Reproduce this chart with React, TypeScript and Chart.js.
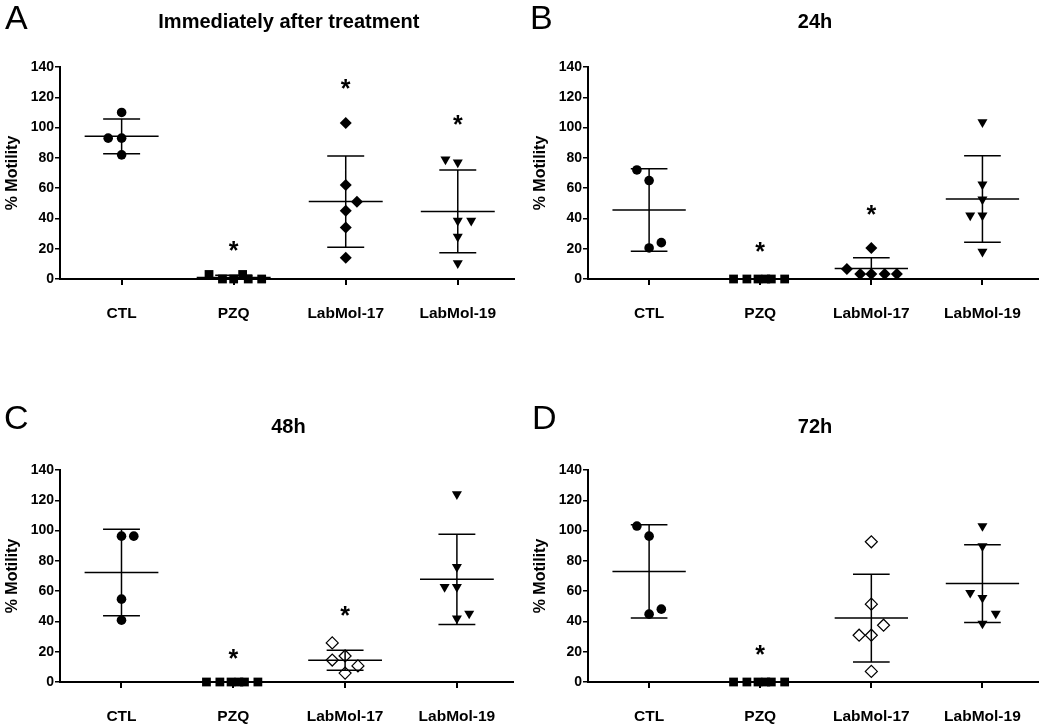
import React, { useEffect, useRef } from 'react';
import { Chart, registerables } from 'chart.js';

Chart.register(...registerables);

// ---------- data ----------
const categories = ['CTL', 'PZQ', 'LabMol-17', 'LabMol-19'];
const yMin = 0;
const yMax = 140;
const yStep = 20;
const yTitle = '% Motility';

// Panel A: Immediately after treatment
const aTitle = 'Immediately after treatment';
const aCTL = [110, 93, 93, 82];
const aPZQ = [3, 0, 0, 3, 0, 0];
const aLM17 = [103, 62, 51, 45, 34, 14];
const aLM19 = [79, 77, 38.5, 38.5, 28, 10.5];
const aCTLJitter = [0, -0.12, 0, 0];
const aPZQJitter = [-0.22, -0.1, 0, 0.08, 0.13, 0.25];
const aLM17Jitter = [0, 0, 0.1, 0, 0, 0];
const aLM19Jitter = [-0.11, 0, 0, 0.12, 0, 0];
const aMean = [94.2, 1, 51.1, 44.6];
const aSD = [11.5, 1.5, 30.2, 27.3];
const aStars = [null, 23, 130, 106];

// Panel B: 24h
const bTitle = '24h';
const bCTL = [72, 65, 20.5, 24];
const bPZQ = [0, 0, 0, 0, 0, 0];
const bLM17 = [6.6, 20.5, 3.3, 3.3, 3.3, 3.3];
const bLM19 = [103.5, 62.5, 52.5, 42, 42, 18];
const bCTLJitter = [-0.11, 0, 0, 0.11];
const bPZQJitter = [-0.24, -0.12, -0.02, 0.05, 0.1, 0.22];
const bLM17Jitter = [-0.22, 0, -0.1, 0, 0.12, 0.23];
const bLM19Jitter = [0, 0, 0, -0.11, 0, 0];
const bMean = [45.6, 0, 7.0, 52.8];
const bSD = [27.2, 0, 7.1, 28.6];
const bStars = [null, 22.5, 47, null];

// Panel C: 48h
const cTitle = '48h';
const cCTL = [96.3, 96.3, 54.7, 40.8];
const cPZQ = [0, 0, 0, 0, 0, 0];
const cLM17 = [25.8, 14.5, 17.2, 10.6, 5.9];
const cLM19 = [124, 76, 62.8, 62.8, 42, 45.2];
const cCTLJitter = [0, 0.11, 0, 0];
const cPZQJitter = [-0.24, -0.12, -0.02, 0.05, 0.1, 0.22];
const cLM17Jitter = [-0.115, -0.115, 0, 0.115, 0];
const cLM19Jitter = [0, 0, -0.11, 0, 0, 0.11];
const cMean = [72.3, 0, 14.3, 67.8];
const cSD = [28.6, 0, 6.6, 29.8];
const cStars = [null, 20, 48, null];

// Panel D: 72h
const dTitle = '72h';
const dCTL = [103, 96.3, 44.8, 48.1];
const dPZQ = [0, 0, 0, 0, 0, 0];
const dLM17 = [92.6, 51.4, 37.5, 30.9, 30.9, 7];
const dLM19 = [103, 89.7, 58.9, 55.6, 45.2, 38.6];
const dCTLJitter = [-0.11, 0, 0, 0.11];
const dPZQJitter = [-0.24, -0.12, -0.02, 0.05, 0.1, 0.22];
const dLM17Jitter = [0, 0, 0.11, -0.11, 0, 0];
const dLM19Jitter = [0, 0, -0.11, 0, 0.12, 0];
const dMean = [73, 0, 42.2, 65];
const dSD = [30.8, 0, 29, 25.7];
const dStars = [null, 22.7, null, null];

// ---------- layout / style ----------
const FONT = "'Liberation Sans', Arial, sans-serif";

type Layout = {
  left: number; top: number; w: number; h: number;
  aL: number; aR: number; aT: number; aB: number;
  titleY: number; letter: string; letterX: number; letterBase: number;
};

type Panel = {
  title: string;
  groups: number[][];
  jitters: number[][];
  mean: number[];
  sd: number[];
  stars: (number | null)[];
  openLM17: boolean;
  layout: Layout;
};

const panels: Panel[] = [
  {
    title: aTitle, groups: [aCTL, aPZQ, aLM17, aLM19],
    jitters: [aCTLJitter, aPZQJitter, aLM17Jitter, aLM19Jitter],
    mean: aMean, sd: aSD, stars: aStars, openLM17: false,
    layout: { left: 0, top: 0, w: 520, h: 362, aL: 60, aR: 518, aT: 67, aB: 279, titleY: 22, letter: 'A', letterX: 5, letterBase: 29 },
  },
  {
    title: bTitle, groups: [bCTL, bPZQ, bLM17, bLM19],
    jitters: [bCTLJitter, bPZQJitter, bLM17Jitter, bLM19Jitter],
    mean: bMean, sd: bSD, stars: bStars, openLM17: false,
    layout: { left: 520, top: 0, w: 530, h: 362, aL: 68, aR: 518, aT: 67, aB: 279, titleY: 22, letter: 'B', letterX: 10, letterBase: 29 },
  },
  {
    title: cTitle, groups: [cCTL, cPZQ, cLM17, cLM19],
    jitters: [cCTLJitter, cPZQJitter, cLM17Jitter, cLM19Jitter],
    mean: cMean, sd: cSD, stars: cStars, openLM17: true,
    layout: { left: 0, top: 362, w: 520, h: 363, aL: 60, aR: 515, aT: 108, aB: 320, titleY: 65, letter: 'C', letterX: 4, letterBase: 67 },
  },
  {
    title: dTitle, groups: [dCTL, dPZQ, dLM17, dLM19],
    jitters: [dCTLJitter, dPZQJitter, dLM17Jitter, dLM19Jitter],
    mean: dMean, sd: dSD, stars: dStars, openLM17: true,
    layout: { left: 520, top: 362, w: 530, h: 363, aL: 68, aR: 518, aT: 108, aB: 320, titleY: 65, letter: 'D', letterX: 12, letterBase: 67 },
  },
];

const MEAN_HALF = 0.33;
const CAP_HALF = 0.165;

function buildBars(mean: number[], sd: number[]) {
  const pts: { x: number; y: number | null }[] = [];
  mean.forEach((m, i) => {
    const s = sd[i];
    pts.push({ x: i - MEAN_HALF, y: m }, { x: i + MEAN_HALF, y: m }, { x: i, y: null });
    if (s > 0) {
      pts.push({ x: i, y: Math.max(m - s, 0) }, { x: i, y: m + s }, { x: i, y: null });
      pts.push({ x: i - CAP_HALF, y: m + s }, { x: i + CAP_HALF, y: m + s }, { x: i, y: null });
      if (m - s > 0) pts.push({ x: i - CAP_HALF, y: m - s }, { x: i + CAP_HALF, y: m - s }, { x: i, y: null });
    }
  });
  return pts;
}

function PanelChart({ p }: { p: Panel }) {
  const ref = useRef<HTMLCanvasElement>(null);
  useEffect(() => {
    if (!ref.current) return;
    const L = p.layout;
    const styles: any[] = [
      { pointStyle: 'circle', radius: 4.8, rotation: 0, bg: '#000', bw: 0 },
      { pointStyle: 'rect', radius: 6.2, rotation: 0, bg: '#000', bw: 0 },
      p.openLM17
        ? { pointStyle: 'rectRot', radius: 6, rotation: 0, bg: 'rgba(0,0,0,0)', bw: 1.2 }
        : { pointStyle: 'rectRot', radius: 6, rotation: 0, bg: '#000', bw: 0 },
      { pointStyle: 'triangle', radius: 5.8, rotation: 180, bg: '#000', bw: 0 },
    ];
    const pointSets = p.groups.map((vals, gi) => ({
      type: 'scatter' as const,
      label: categories[gi],
      data: vals.map((v, k) => ({ x: gi + p.jitters[gi][k], y: v })),
      pointStyle: styles[gi].pointStyle,
      pointRadius: styles[gi].radius,
      pointRotation: styles[gi].rotation,
      pointBackgroundColor: styles[gi].bg,
      pointBorderColor: '#000',
      pointBorderWidth: styles[gi].bw,
      showLine: false,
      clip: false,
      order: 0,
    }));
    const barSet = {
      type: 'scatter' as const,
      label: 'mean ± SD',
      data: buildBars(p.mean, p.sd),
      showLine: true,
      spanGaps: false,
      borderColor: '#000',
      borderWidth: 1.5,
      pointRadius: 0,
      clip: false,
      order: 1,
    };

    const decor = {
      id: 'decor',
      afterDatasetsDraw(chart: any) {
        const ctx = chart.ctx;
        const ca = chart.chartArea;
        const xs = chart.scales.x;
        const ys = chart.scales.y;
        ctx.save();
        ctx.fillStyle = '#000';
        // stars
        ctx.font = `bold 25px ${FONT}`;
        ctx.textAlign = 'center';
        ctx.textBaseline = 'alphabetic';
        p.stars.forEach((s, i) => {
          if (s == null) return;
          ctx.fillText('*', xs.getPixelForValue(i), ys.getPixelForValue(s) + 15);
        });
        // title
        ctx.font = `bold 20px ${FONT}`;
        ctx.textBaseline = 'middle';
        ctx.fillText(p.title, (ca.left + ca.right) / 2 + 2, L.titleY);
        // panel letter
        ctx.font = `34px ${FONT}`;
        ctx.textAlign = 'left';
        ctx.textBaseline = 'alphabetic';
        ctx.fillText(L.letter, L.letterX, L.letterBase);
        // y title
        ctx.font = `bold 16px ${FONT}`;
        ctx.textAlign = 'center';
        ctx.textBaseline = 'middle';
        ctx.translate(ca.left - 47, (ca.top + ca.bottom) / 2);
        ctx.rotate(-Math.PI / 2);
        ctx.fillText(yTitle, 0, 0);
        ctx.restore();
      },
    };

    const chart = new Chart(ref.current, {
      type: 'scatter',
      data: { datasets: [...pointSets, barSet] as any },
      options: {
        animation: false,
        responsive: false,
        maintainAspectRatio: false,
        events: [],
        layout: { padding: { top: L.aT, right: L.w - L.aR, left: 0, bottom: 0 } },
        plugins: {
          legend: { display: false },
          tooltip: { enabled: false },
          title: { display: false },
        },
        scales: {
          x: {
            type: 'linear',
            min: -0.55,
            max: 3.5,
            afterBuildTicks: (s: any) => {
              s.ticks = categories.map((_, i) => ({ value: i }));
            },
            afterFit: (s: any) => {
              s.height = L.h - L.aB;
            },
            ticks: {
              autoSkip: false,
              maxRotation: 0,
              padding: 19,
              color: '#000',
              font: { family: FONT, size: 15.5, weight: 'bold' },
              callback: (v: any) => categories[Math.round(Number(v))] ?? '',
            },
            grid: { drawOnChartArea: false, drawTicks: true, tickLength: 6, color: '#000', lineWidth: 2 },
            border: { display: true, color: '#000', width: 2 },
          },
          y: {
            type: 'linear',
            min: yMin,
            max: yMax,
            afterFit: (s: any) => {
              s.width = L.aL;
            },
            ticks: {
              stepSize: yStep,
              padding: 1,
              color: '#000',
              font: { family: FONT, size: 14, weight: 'bold' },
            },
            grid: { drawOnChartArea: false, drawTicks: true, tickLength: 5, color: '#000', lineWidth: 1.5 },
            border: { display: true, color: '#000', width: 2 },
          },
        },
      },
      plugins: [decor],
    } as any);
    return () => chart.destroy();
  }, [p]);
  const L = p.layout;
  return (
    <canvas
      ref={ref}
      width={L.w}
      height={L.h}
      style={{ position: 'absolute', left: L.left, top: L.top, width: L.w, height: L.h }}
    />
  );
}

export default function App() {
  return (
    <div style={{ position: 'absolute', left: 0, top: 0, width: 1050, height: 725, background: '#fff', overflow: 'hidden' }}>
      {panels.map((p, i) => (
        <PanelChart key={i} p={p} />
      ))}
    </div>
  );
}
